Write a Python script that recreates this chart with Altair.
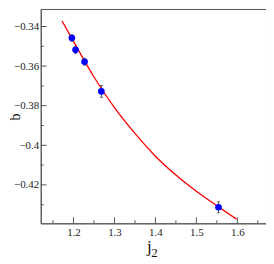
import altair as alt
import pandas as pd

# measured points
j_vals = [1.196, 1.205, 1.227, 1.268, 1.554]
b_vals = [-0.3458, -0.3518, -0.3578, -0.3728, -0.4313]
b_err = [0.0018, 0.0018, 0.0018, 0.0030, 0.0028]

# fitted curve
curve_j = [1.172, 1.2, 1.25, 1.3, 1.35, 1.4, 1.45, 1.5, 1.55, 1.598]
curve_b = [-0.3372, -0.3475, -0.3655, -0.3810, -0.3940, -0.4055, -0.4150, -0.4232, -0.4305, -0.4373]

x_major = [1.2, 1.3, 1.4, 1.5, 1.6]
x_minor = [1.15, 1.25, 1.35, 1.45, 1.55, 1.65]
y_major = [-0.34, -0.36, -0.38, -0.40, -0.42]
y_minor = [-0.35, -0.37, -0.39, -0.41, -0.43]

X_DOM = [1.12, 1.670]
Y_DOM = [-0.4394, -0.33115]
W, H = 227, 216
FONT = "Liberation Serif"
AX = "#555555"

pts = pd.DataFrame({"j": j_vals, "b": b_vals, "err": b_err})
pts["lo"] = pts["b"] - pts["err"]
pts["hi"] = pts["b"] + pts["err"]
curve = pd.DataFrame({"j": curve_j, "b": curve_b})

xs = alt.Scale(domain=X_DOM, nice=False, zero=False)
ys = alt.Scale(domain=Y_DOM, nice=False, zero=False)

xaxis = alt.Axis(values=x_major, format=".1f", tickSize=0, labelPadding=3,
                 labelFont=FONT, labelFontSize=11, labelColor="#222",
                 domainColor=AX, grid=False, title=None)
yaxis = alt.Axis(values=y_major, format=".2~f", tickSize=0, labelPadding=2,
                 labelFont=FONT, labelFontSize=11, labelColor="#222",
                 domainColor=AX, grid=False, title="b", titleFont=FONT,
                 titleFontSize=14, titleFontWeight="normal", titleColor="#111",
                 titleX=-21, titleY=108.5, titleAngle=-90, titleBaseline="alphabetic",
                 titleAlign="center")

line = alt.Chart(curve).mark_line(color="#ff0000", strokeWidth=1.3, interpolate="monotone").encode(
    x=alt.X("j:Q", scale=xs, axis=xaxis),
    y=alt.Y("b:Q", scale=ys, axis=yaxis),
)

errs = alt.Chart(pts).mark_rule(color="#444", strokeWidth=1).encode(
    x=alt.X("j:Q", scale=xs), y=alt.Y("lo:Q", scale=ys), y2="hi:Q")
cap_lo = alt.Chart(pts).mark_tick(color="#444", orient="horizontal", size=3, thickness=1).encode(
    x=alt.X("j:Q", scale=xs), y=alt.Y("lo:Q", scale=ys))
cap_hi = alt.Chart(pts).mark_tick(color="#444", orient="horizontal", size=3, thickness=1).encode(
    x=alt.X("j:Q", scale=xs), y=alt.Y("hi:Q", scale=ys))
dots = alt.Chart(pts).mark_circle(color="#0000ff", opacity=1, size=45).encode(
    x=alt.X("j:Q", scale=xs), y=alt.Y("b:Q", scale=ys))

xt_major = alt.Chart(pd.DataFrame({"v": x_major})).mark_rule(color=AX).encode(
    x=alt.X("v:Q", scale=xs), y=alt.value(H), y2=alt.value(H - 6))
xt_minor = alt.Chart(pd.DataFrame({"v": x_minor})).mark_rule(color=AX).encode(
    x=alt.X("v:Q", scale=xs), y=alt.value(H), y2=alt.value(H - 3))
yt_major = alt.Chart(pd.DataFrame({"v": y_major})).mark_rule(color=AX).encode(
    y=alt.Y("v:Q", scale=ys), x=alt.value(0), x2=alt.value(6))
yt_minor = alt.Chart(pd.DataFrame({"v": y_minor})).mark_rule(color=AX).encode(
    y=alt.Y("v:Q", scale=ys), x=alt.value(0), x2=alt.value(3))

t_j = alt.Chart(pd.DataFrame({"t": ["j"]})).mark_text(
    font=FONT, fontSize=17, align="center", baseline="alphabetic", color="#111").encode(
    text="t:N", x=alt.value(109.5), y=alt.value(244.5))
t_2 = alt.Chart(pd.DataFrame({"t": ["2"]})).mark_text(
    font=FONT, fontSize=13, align="center", baseline="alphabetic", color="#111").encode(
    text="t:N", x=alt.value(114.5), y=alt.value(250))

chart = alt.layer(
    line, errs, cap_lo, cap_hi, dots, xt_major, xt_minor, yt_major, yt_minor, t_j, t_2
).properties(
    width=W, height=H,
    autosize=alt.AutoSizeParams(type="none"),
    padding={"left": 33, "top": 0, "right": 0, "bottom": 38},
).configure_view(stroke=AX, strokeWidth=1).configure_axis(domainWidth=1)

chart.save("out.html", embed_options={"renderer": "svg", "actions": False})
